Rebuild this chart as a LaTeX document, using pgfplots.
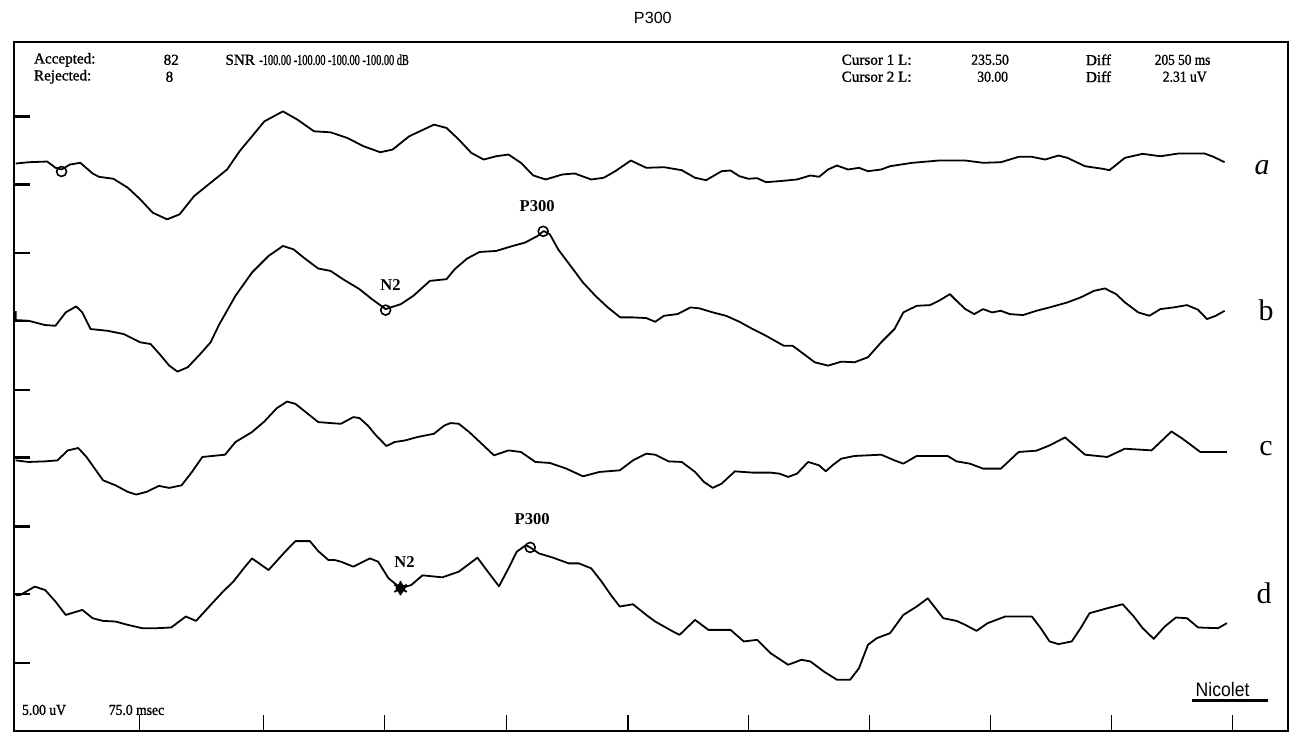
\documentclass[border=0pt]{standalone}
\usepackage{pgfplots}
\pgfplotsset{compat=1.18}
\usepackage{graphicx}
\usepackage{fontspec}
\setmainfont{Liberation Serif}
\newfontfamily\arial{Liberation Sans}
\newfontfamily\hdrf{Liberation Serif}[BoldFont={Liberation Serif}, BoldFeatures={FakeBold=1.2}]
\newcommand\hdr{\hdrf\bfseries\fontsize{7.6}{8}\selectfont}
\newcommand\cond[2]{\scalebox{#1}[1]{#2}}
\begin{document}
\begin{tikzpicture}
\begin{axis}[
  scale only axis,
  width=639pt, height=345.5pt,
  xmin=10, xmax=1288, ymin=1, ymax=692,
  y filter/.expression={734-y},
  clip=false,
  axis line style={line width=1.1pt},
  tick align=inside,
  major tick length=8pt,
  xtick style={line width=0.6pt, black},
  ytick style={line width=1.2pt, black},
  xtick={136.5,260.5,382,504.5,626,747,868.5,990,1111,1232},
  xticklabels={},
  xtick pos=left,
  ytick={617,549,480,412,343,275,206,138,69},
  yticklabels={},
  ytick pos=left,
  every axis plot/.append style={line width=0.9pt, black, line join=round},
]
\path (axis cs:0,0) rectangle (axis cs:1297,734);

% trace a
\addplot[no marks] coordinates {
(12,164) (24.9,162.7) (43.6,162) (51.9,168.3) (58,170) (66.4,165) (76.8,163.3) (89.2,174) (95.4,177.3) (110,179.3) (124.5,188.3) (137,200) (149.4,213.3) (163.9,220) (176.3,215) (190.9,196.7) (207.5,183.3) (224,170) (236.5,151.7) (249,136.7) (261.4,121.7) (280,111.7) (294.6,120) (311.2,131.7) (327.8,132.7) (344.4,138.3) (361,146.7) (377.6,152.7) (390,150) (406.6,136.7) (431.5,125) (444,128.3) (456.4,140) (468.9,153.3) (481.3,160) (493.8,156.7) (506.2,155) (518.7,163.3) (531.1,176) (543.6,180) (560.2,175) (572.6,174) (589.2,180) (601.7,178.3) (613.3,171.7) (628.9,161) (644.4,168.3) (662.2,167.7) (680,170.7) (693.3,178.3) (704.4,180.7) (720,171.7) (728.9,171) (737.8,176.7) (746.7,179.3) (755.6,178.7) (764.4,182.7) (777.8,181.7) (795.6,180) (808.9,176) (817.8,177.3) (826.7,170) (835.6,166) (846.7,170) (857.8,168.3) (866.7,171.7) (880,170) (888.9,166.7) (911.1,163.3) (937.8,161) (964.4,161) (982.2,163.3) (1000,162.7) (1017.8,157.3) (1031.1,157.3) (1044.4,160) (1057.8,156) (1066.7,158.3) (1084.4,166.7) (1102.2,169.3) (1108.9,170.7) (1124.4,158.3) (1142.2,154.3) (1160,156.7) (1177.8,154) (1204.4,154) (1213.3,157.3) (1224.4,162.7)
};
% trace b
\addplot[no marks] coordinates {
(12,312) (12,321) (24.9,321.7) (41.5,326) (51.9,326.7) (62.2,313.3) (72.6,307.3) (78.8,313.3) (87.1,330) (103.7,331.7) (120.3,335) (136.9,343.3) (147.3,345) (157.7,356.7) (166,366.7) (174.3,372.7) (184.6,368.3) (197.1,355) (207.5,343.3) (215.8,326) (232.4,296.7) (249,273.3) (265.6,256.7) (280,246.7) (290.5,250) (302.9,260) (315.4,269.3) (327.8,271.7) (340.2,280) (356.8,290) (369.3,300) (383,310) (398.3,305) (410.8,296.7) (427.4,281.7) (444,280) (452.3,270) (464.7,259.3) (477.2,252.7) (493.8,251.7) (510.4,246.7) (522.8,243.3) (535.3,236.7) (541.5,231.7) (547.7,235) (556,250) (568.5,266.7) (580.9,283.3) (593.4,296.7) (605.8,308.3) (618.3,318.3) (630.7,318.3) (644.4,319) (653.3,322.7) (662.2,316.7) (675.6,315) (688.9,308.3) (697.8,309.3) (711.1,313.3) (724.4,316.7) (737.8,322.7) (751.1,330) (764.4,336.7) (782.2,346.7) (791.1,346.7) (800,353.3) (813.3,363.3) (826.7,366.7) (840,362.7) (853.3,363.3) (866.7,358.3) (880,343.3) (893.3,330) (902.2,313.3) (915.6,306.7) (928.9,306) (937.8,301.7) (948.9,295) (955.6,301.7) (964.4,310) (973.3,315) (982.2,310) (991.1,313.3) (1000,311.7) (1008.9,315) (1022.2,316) (1035.6,311.7) (1048.9,308.3) (1066.7,303.3) (1080,298.3) (1093.3,291.7) (1104.4,289.3) (1115.6,295) (1124.4,303.3) (1137.8,313.3) (1148.9,316.7) (1160,310) (1173.3,308.3) (1186.7,306) (1197.8,310.7) (1206.7,320) (1215.6,316.7) (1224.4,311.7)
};
% trace c
\addplot[no marks] coordinates {
(12,461.7) (24.9,463.3) (41.5,462.7) (53.9,461.7) (64.3,451.7) (74.7,449.3) (83,458.3) (91.3,470) (99.6,481.7) (112,486.7) (124.5,493.3) (132.8,496) (143.2,493.3) (155.6,487.3) (166,489.3) (178.4,486.7) (188.8,473.3) (199.2,458.3) (222,456) (232.4,443.3) (249,433.3) (261.4,422.7) (273.9,409.3) (284.2,402.7) (292.5,405) (302.9,413.3) (315.4,423.3) (327.8,424.3) (338.2,425) (350.6,418.3) (356.8,419.3) (365.1,426.7) (373.4,436.7) (383.8,447.3) (392.1,443.3) (402.5,441.7) (414.9,438.3) (431.5,435) (441.9,426.7) (448.1,424.3) (456.4,425) (466.8,433.3) (479.3,445) (491.7,456.7) (506.2,451.7) (518.7,453.3) (533.2,463.3) (547.7,464.3) (564.3,470) (580.9,477.7) (597.5,473.3) (617.8,471.7) (631.1,461.7) (644.4,455) (653.3,456) (666.7,462.7) (680,463.3) (693.3,473.3) (702.2,483.3) (711.1,489.3) (720,485) (733.3,472.7) (751.1,474) (768.9,474) (777.8,475) (786.7,478.3) (795.6,475) (806.7,463.3) (817.8,466.7) (824.4,472.7) (831.1,466.7) (840,460) (853.3,457.3) (880,456) (893.3,461.7) (902.2,465) (915.6,457.3) (946.7,457.3) (955.6,462.7) (968.9,465) (982.2,470) (1000,470) (1008.9,461.7) (1017.8,453.3) (1035.6,452) (1048.9,446.7) (1064.4,438.7) (1075.6,448.3) (1084.4,456) (1106.7,458.3) (1124.4,450) (1151.1,451.7) (1160,443.3) (1171.1,432.7) (1182.2,440) (1200,453.3) (1213.3,453.3) (1226.7,453.3)
};
% trace d
\addplot[no marks] coordinates {
(12,597) (16.6,596.7) (31.1,588.3) (41.5,591.7) (51.9,603.3) (62.2,616.7) (78.8,611.7) (89.2,620) (99.6,622.7) (112,623.3) (124.5,626.7) (139,630) (153.5,630) (168,629.3) (182.6,618.3) (192.9,622.7) (207.5,606.7) (219.9,593.3) (230.3,583.3) (240.7,570) (249,560) (265.6,571.7) (282.2,553.3) (292.5,542.7) (307.1,542.7) (315.4,552.7) (325.7,561.7) (332,561.7) (338.2,563.3) (350.6,568.3) (367.2,560) (375.5,563.3) (385.9,580) (398.3,590) (408.7,586.7) (420,577) (440,579) (456.4,573.3) (475.1,559.3) (485.5,573.3) (496.7,588) (506.2,570) (514.5,553.3) (523.7,546.7) (528,549) (536.7,555) (550,559) (566.7,565) (576.8,565) (589.2,570) (599.6,583.3) (608.9,596.7) (617.8,608.3) (631.1,606) (644.4,616.7) (653.3,623.3) (671.1,633.3) (677.8,636.7) (693.3,621.7) (706.7,631.7) (728.9,631.7) (742.2,643.3) (755.6,641.7) (768.9,655) (786.7,666.7) (800,661.7) (808.9,663.3) (822.2,673.3) (835.6,681.7) (848.9,681.7) (857.8,670) (866.7,646.7) (875.6,640) (888.9,635) (902.2,616.7) (915.6,608.3) (926.7,600) (942.2,620) (955.6,622.7) (964.4,626.7) (975.6,632.7) (986.7,625) (1004.4,618.3) (1031.1,618.3) (1040,630) (1048.9,643.3) (1057.8,646) (1071.1,643.3) (1080,630) (1088.9,615) (1106.7,610) (1122.2,606) (1133.3,618.3) (1142.2,630) (1153.3,640.7) (1164.4,628.3) (1175.6,619.3) (1186.7,620) (1197.8,629.3) (1217.8,630) (1226.7,625)
};

% cursor markers
\addplot[only marks, mark=o, mark size=2.5pt, mark options={line width=0.8pt, fill=white}] coordinates {(58,172) (383,311) (541,232) (528,549)};
\addplot[only marks, mark=diamond*, mark size=2.8pt] coordinates {(398,590)};
\addplot[only marks, mark=asterisk, mark size=3.6pt, mark options={line width=0.9pt}] coordinates {(398,590)};

% title
\node[font=\arial\fontsize{8.1}{9}\selectfont] at (axis cs:651,716) {P300};

% header
\node[anchor=west, inner sep=0, font=\hdr] at (axis cs:30,674) {Accepted:};
\node[anchor=west, inner sep=0, font=\hdr] at (axis cs:160,674) {82};
\node[anchor=west, inner sep=0, font=\hdr] at (axis cs:222,674) {SNR};
\node[anchor=west, inner sep=0, font=\hdr] at (axis cs:256,674) {\cond{0.68}{-100.00 -100.00 -100.00 -100.00 dB}};
\node[anchor=west, inner sep=0, font=\hdr] at (axis cs:30,657) {Rejected:};
\node[anchor=west, inner sep=0, font=\hdr] at (axis cs:162,657) {8};
\node[anchor=west, inner sep=0, font=\hdr] at (axis cs:840,674) {Cursor 1 L:};
\node[anchor=west, inner sep=0, font=\hdr] at (axis cs:970,674) {\cond{0.9}{235.50}};
\node[anchor=west, inner sep=0, font=\hdr] at (axis cs:1085,674) {Diff};
\node[anchor=west, inner sep=0, font=\hdr] at (axis cs:1154,674) {\cond{0.88}{205 50 ms}};
\node[anchor=west, inner sep=0, font=\hdr] at (axis cs:840,657) {Cursor 2 L:};
\node[anchor=west, inner sep=0, font=\hdr] at (axis cs:976,657) {\cond{0.9}{30.00}};
\node[anchor=west, inner sep=0, font=\hdr] at (axis cs:1085,657) {Diff};
\node[anchor=west, inner sep=0, font=\hdr] at (axis cs:1162,657) {\cond{0.9}{2.31 uV}};

% peak labels
\node[font=\bfseries\fontsize{8.3}{9}\selectfont] at (axis cs:388,448) {N2};
\node[font=\bfseries\fontsize{8.3}{9}\selectfont] at (axis cs:535,527) {P300};
\node[font=\bfseries\fontsize{8.3}{9}\selectfont] at (axis cs:402,170) {N2};
\node[font=\bfseries\fontsize{8.3}{9}\selectfont] at (axis cs:530,213) {P300};

% trace labels
\node[font=\itshape\fontsize{15}{16}\selectfont] at (axis cs:1262,566) {a};
\node[font=\fontsize{15}{16}\selectfont] at (axis cs:1266,423) {b};
\node[font=\fontsize{15}{16}\selectfont] at (axis cs:1266,284) {c};
\node[font=\fontsize{15}{16}\selectfont] at (axis cs:1264,139) {d};

% footer
\node[anchor=west, inner sep=0, font=\hdr] at (axis cs:18,22) {\cond{0.9}{5.00 uV}};
\node[anchor=west, inner sep=0, font=\hdr] at (axis cs:105,22) {\cond{0.9}{75.0 msec}};
\node[anchor=west, inner sep=0, font=\arial\fontsize{9.8}{10}\selectfont] at (axis cs:1195,42) {\cond{0.9}{Nicolet}};
\draw[line width=1.5pt] (axis cs:1192,31) -- (axis cs:1268,31);
\end{axis}
\end{tikzpicture}
\end{document}
